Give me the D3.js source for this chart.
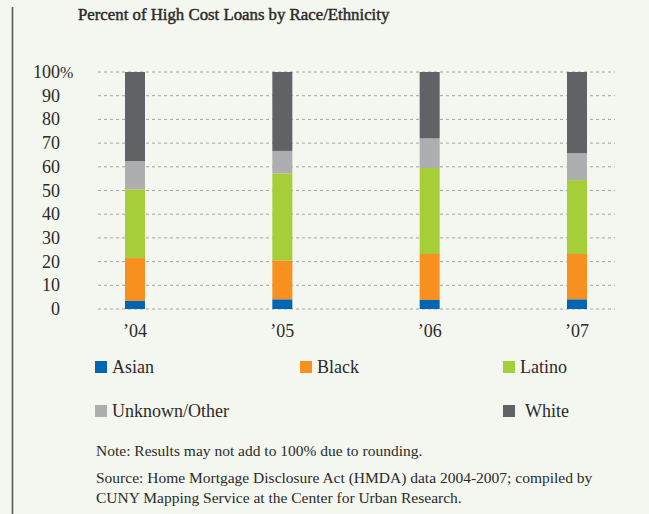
<!DOCTYPE html>
<html>
<head>
<meta charset="utf-8">
<script src="https://cdn.jsdelivr.net/npm/d3@7"></script>
<style>
  html, body { margin: 0; padding: 0; background: #f3f7f0; }
  svg { display: block; }
  text { font-family: "Liberation Serif", "DejaVu Serif", serif; fill: #2b2a29; }
</style>
</head>
<body>
<svg id="chart" width="649" height="514"></svg>
<script>
// Share of high cost loans (percent) by race/ethnicity, 2004–2007
const years = ["’04", "’05", "’06", "’07"];
const groups = ["Asian", "Black", "Latino", "Unknown/Other", "White"];
const asian   = [3.4, 4.1, 3.8, 4.1];
const black   = [18.1, 16.4, 19.4, 19.1];
const latino  = [29.0, 36.7, 36.3, 31.2];
const unknown = [11.9, 9.5, 12.5, 11.3];
const white   = [37.6, 33.3, 28.0, 34.3];
const yTicks = [0, 10, 20, 30, 40, 50, 60, 70, 80, 90, 100];
const colors = ["#0066b3", "#f7901e", "#a6ce39", "#adaeb0", "#616266"];

const table = years.map((y, i) => ({
  year: y,
  "Asian": asian[i],
  "Black": black[i],
  "Latino": latino[i],
  "Unknown/Other": unknown[i],
  "White": white[i]
}));

const svg = d3.select("#chart");

// left rule
svg.append("line")
  .attr("x1", 12.5).attr("x2", 12.5)
  .attr("y1", 7).attr("y2", 514)
  .attr("stroke", "#5a5a5a").attr("stroke-width", 1.6);

// title (semi-bold look via a thin outline)
svg.append("text")
  .attr("x", 78).attr("y", 20)
  .attr("font-size", 16.8)
  .attr("stroke", "#2b2a29").attr("stroke-width", 0.45)
  .text("Percent of High Cost Loans by Race/Ethnicity");

const x = d3.scalePoint().domain(years).range([135, 577]);
const y = d3.scaleLinear().domain([0, 100]).range([309, 72]);
const color = d3.scaleOrdinal().domain(groups).range(colors);
const barW = 20;

// dashed gridlines
svg.append("g")
  .selectAll("line")
  .data(yTicks)
  .join("line")
  .attr("x1", 98).attr("x2", 615)
  .attr("y1", d => y(d)).attr("y2", d => y(d))
  .attr("stroke", "#a3a4a4").attr("stroke-width", 1)
  .attr("stroke-dasharray", "3,3");

// y tick labels
const yl = svg.append("g");
yl.selectAll("text")
  .data(yTicks)
  .join("text")
  .attr("x", 60)
  .attr("y", d => y(d) + 6)
  .attr("text-anchor", "end")
  .attr("font-size", 18)
  .text(d => d);
yl.append("text")
  .attr("x", 60).attr("y", y(100) + 6)
  .attr("font-size", 16)
  .text("%");

// stacked bars
const series = d3.stack().keys(groups)(table);
svg.append("g")
  .selectAll("g")
  .data(series)
  .join("g")
  .attr("fill", d => color(d.key))
  .selectAll("rect")
  .data(d => d)
  .join("rect")
  .attr("x", d => x(d.data.year) - barW / 2)
  .attr("width", barW)
  .attr("y", d => y(d[1]))
  .attr("height", d => y(d[0]) - y(d[1]));

// x labels
svg.append("g")
  .selectAll("text")
  .data(years)
  .join("text")
  .attr("x", d => x(d))
  .attr("y", 337)
  .attr("text-anchor", "middle")
  .attr("font-size", 18)
  .text(d => d);

// legend
const legendPos = [
  { key: "Asian", x: 95, y: 361 },
  { key: "Black", x: 300, y: 361 },
  { key: "Latino", x: 503, y: 361 },
  { key: "Unknown/Other", x: 95, y: 405 },
  { key: "White", x: 503, y: 405 }
];
const lg = svg.append("g")
  .selectAll("g")
  .data(legendPos)
  .join("g")
  .attr("transform", d => `translate(${d.x},${d.y})`);
lg.append("rect")
  .attr("width", 12).attr("height", 12)
  .attr("fill", d => color(d.key));
lg.append("text")
  .attr("x", d => d.key === "White" ? 22 : 17)
  .attr("y", 11.5)
  .attr("font-size", 18)
  .text(d => d.key);

// notes
const notes = [
  { t: "Note: Results may not add to 100% due to rounding.", y: 456 },
  { t: "Source: Home Mortgage Disclosure Act (HMDA) data 2004-2007; compiled by", y: 483 },
  { t: "CUNY Mapping Service at the Center for Urban Research.", y: 503 }
];
svg.append("g")
  .selectAll("text")
  .data(notes)
  .join("text")
  .attr("x", 96).attr("y", d => d.y)
  .attr("font-size", 15.5)
  .text(d => d.t);
</script>
</body>
</html>
